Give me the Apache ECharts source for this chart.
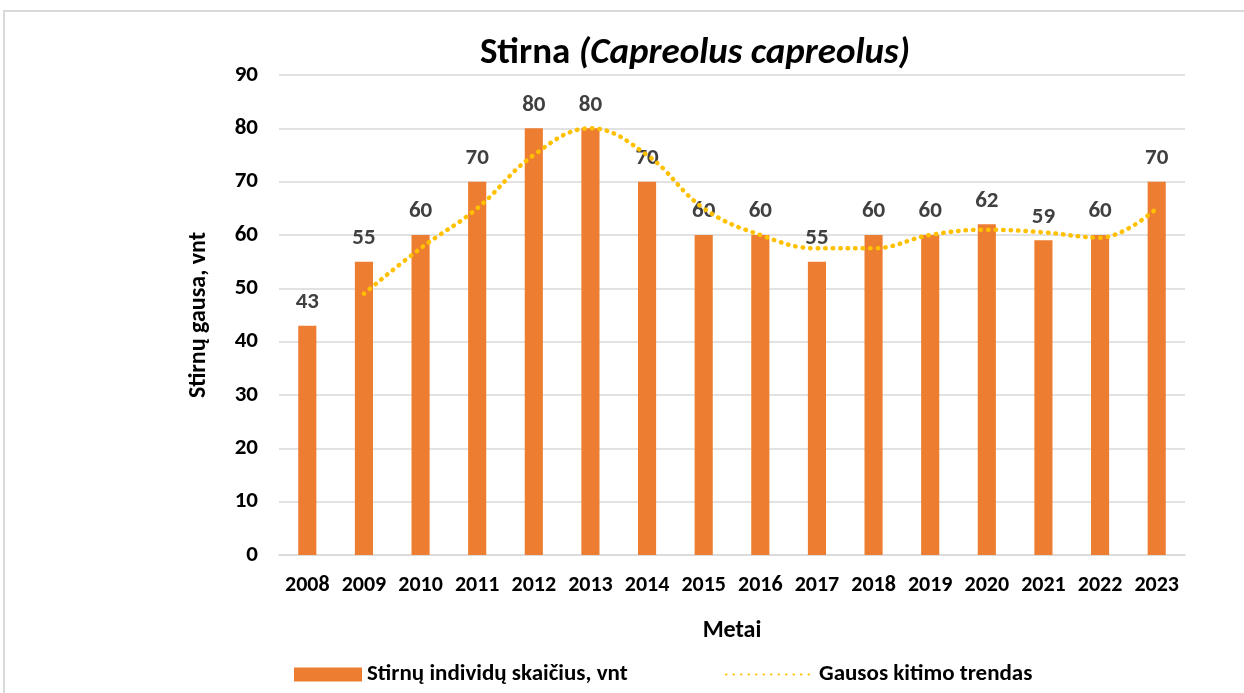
<!DOCTYPE html>
<html>
<head>
<meta charset="utf-8">
<script src="https://cdn.jsdelivr.net/npm/echarts@6/dist/echarts.min.js"></script>
<style>
html,body{margin:0;padding:0;background:#fff;}
#frame{position:absolute;left:3px;top:10px;width:1250px;height:700px;border:2px solid #d9d9d9;box-sizing:border-box;}
#chart{position:absolute;left:0;top:0;width:1244px;height:693px;}
</style>
</head>
<body>
<div id="frame"></div>
<div id="chart"></div>
<script>
const years = ['2008','2009','2010','2011','2012','2013','2014','2015','2016','2017','2018','2019','2020','2021','2022','2023'];
const counts = [43,55,60,70,80,80,70,60,60,55,60,60,62,59,60,70];
const trend = [null,49,57.5,65,75,80,75,65,60,57.5,57.5,60,61,60.5,59.5,65];
const yTicks = {min:0, max:90, interval:10};

const FONT = "Carlito, 'Liberation Sans Narrow', 'Open Sans', sans-serif";
const legendText = {fontSize:23,fontWeight:'bold',fontFamily:FONT,color:'#000'};
const chart = echarts.init(document.getElementById('chart'));
chart.setOption({
  animation:false,
  title:{
    text:'{n|Stirna }{i|(Capreolus capreolus)}',
    left:690, top:30, textAlign:'center',
    textStyle:{rich:{
      n:{fontSize:37,fontWeight:'bold',fontFamily:FONT,color:'#000'},
      i:{fontSize:37,fontWeight:'bold',fontStyle:'italic',fontFamily:FONT,color:'#000'}
    }}
  },
  grid:{left:279,right:59,top:75,bottom:138},
  legend:[
    {
      left:289, top:658, itemGap:6,
      textStyle:legendText,
      data:[{name:'Stirnų individų skaičius, vnt', icon:'rect'}],
      itemWidth:68, itemHeight:14
    },
    {
      left:720, top:658, itemGap:6,
      textStyle:legendText,
      data:[{name:'Gausos kitimo trendas', itemStyle:{opacity:0}}],
      itemWidth:88, itemHeight:14
    }
  ],
  xAxis:{
    type:'category', data:years,
    name:'Metai', nameLocation:'middle', nameGap:64,
    nameTextStyle:{fontSize:24,fontWeight:'bold',fontFamily:FONT,color:'#000'},
    axisLine:{lineStyle:{color:'#d9d9d9',width:1.5}},
    axisTick:{show:false},
    axisLabel:{interval:0,fontSize:22,fontWeight:'bold',fontFamily:FONT,color:'#000',margin:19}
  },
  yAxis:{
    type:'value', min:yTicks.min, max:yTicks.max, interval:yTicks.interval,
    name:'Stirnų gausa, vnt', nameLocation:'middle', nameGap:68,
    nameTextStyle:{fontSize:24,fontWeight:'bold',fontFamily:FONT,color:'#000'},
    axisLine:{show:false}, axisTick:{show:false},
    splitLine:{lineStyle:{color:'#d9d9d9',width:1.5}},
    axisLabel:{fontSize:23,fontWeight:'bold',fontFamily:FONT,color:'#000',margin:21}
  },
  series:[
    {
      name:'Stirnų individų skaičius, vnt', type:'bar', data:counts,
      barWidth:'32%', itemStyle:{color:'#ED7D31'},
      label:{show:true,position:'top',distance:12,fontSize:23,fontWeight:'bold',fontFamily:FONT,color:'#404040'}
    },
    {
      name:'Gausos kitimo trendas', type:'line', data:trend, smooth:0.4,
      symbol:'none', connectNulls:false,
      lineStyle:{color:'#FFC000',width:4.5,type:[0.5,7],cap:'round'},
      itemStyle:{color:'#FFC000'},
      z:3
    }
  ]
});
</script>
</body>
</html>
